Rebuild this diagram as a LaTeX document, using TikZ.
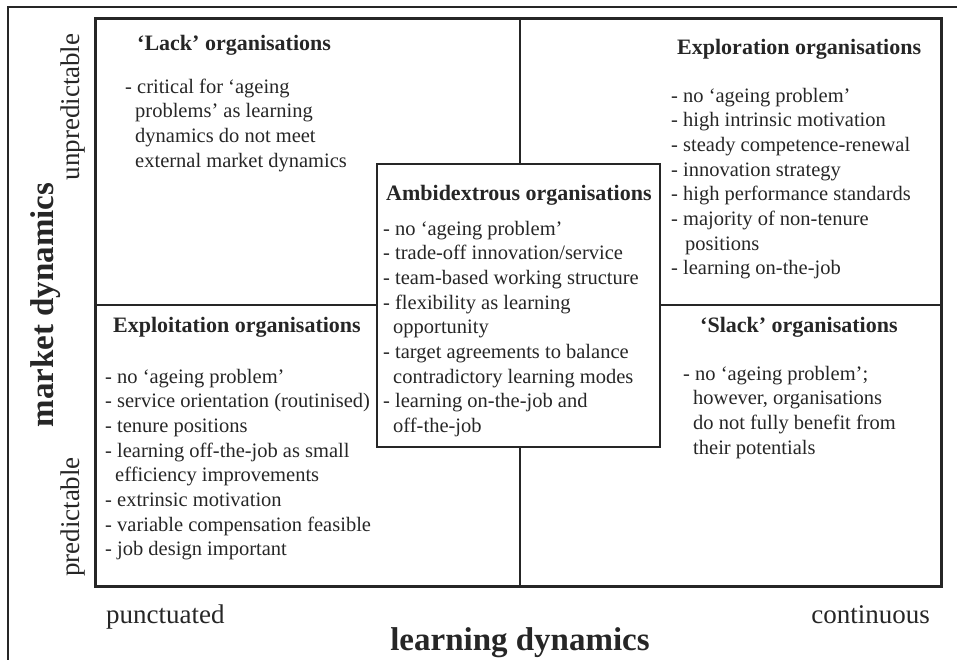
\documentclass[tikz,border=0pt]{standalone}
\usepackage{fontspec}
\setmainfont{Liberation Serif}
\definecolor{ink}{HTML}{262626}

\tikzstyle{heading}=[font=\fontsize{22}{26}\selectfont\bfseries,anchor=base west,inner sep=0pt,text=ink]
\tikzstyle{items}=[font=\fontsize{20.5}{24.7}\selectfont,anchor=base west,inner sep=0pt,text=ink]
\tikzstyle{axis label}=[font=\fontsize{33}{38}\selectfont\bfseries,inner sep=0pt,text=ink]
\tikzstyle{pole}=[font=\fontsize{27}{32}\selectfont,inner sep=0pt,text=ink]
\tikzstyle{divider}=[draw=ink,line width=1.3pt]
\tikzstyle{middle box}=[draw=ink,line width=1.3pt,fill=white,minimum width=283pt,minimum height=283pt]

% list of points, hanging from the baseline of its first line
\newcommand{\pointlist}[1]{\begin{tabular}[t]{@{}l@{}}#1\end{tabular}}
\newcommand{\cont}{\hspace*{10pt}}

\begin{document}
\begin{tikzpicture}[x=1pt,y=-1pt]
\useasboundingbox (0,0) rectangle (957,659);
% page frame and the matrix
\draw[divider] (8,7) rectangle (1000,700);
\draw[draw=ink,line width=3pt] (95,18) rectangle (941,586);
\draw[divider] (95,305) -- (941,305);
\draw[divider] (520,18) -- (520,586);
\node[middle box] (amb) at (518.5,305.5) {};

% quadrants
\node[heading] (lack) at (137,50) {`Lack' organisations};
\node[items] (lacklist) at (125,93) {\pointlist{- critical for `ageing\\
  \cont problems' as learning\\
  \cont dynamics do not meet\\
  \cont external market dynamics}};

\node[heading] (explor) at (677,54) {Exploration organisations};
\node[items] (explorlist) at (671,102) {\pointlist{- no `ageing problem'\\
  - high intrinsic motivation\\
  - steady competence-renewal\\
  - innovation strategy\\
  - high performance standards\\
  - majority of non-tenure\\
  \hspace*{14pt}positions\\
  - learning on-the-job}};

\node[heading] (exploit) at (113,332) {Exploitation organisations};
\node[items] (exploitlist) at (105,383) {\pointlist{- no `ageing problem'\\
  - service orientation (routinised)\\
  - tenure positions\\
  - learning off-the-job as small\\
  \cont efficiency improvements\\
  - extrinsic motivation\\
  - variable compensation feasible\\
  - job design important}};

\node[heading] (slack) at (700,332) {`Slack' organisations};
\node[items] (slacklist) at (683,380) {\pointlist{- no `ageing problem';\\
  \cont however, organisations\\
  \cont do not fully benefit from\\
  \cont their potentials}};

\node[heading] (ambtitle) at (386,200) {Ambidextrous organisations};
\node[items] (amblist) at (383,235) {\pointlist{- no `ageing problem'\\
  - trade-off innovation/service\\
  - team-based working structure\\
  - flexibility as learning\\
  \cont opportunity\\
  - target agreements to balance\\
  \cont contradictory learning modes\\
  - learning on-the-job and\\
  \cont off-the-job}};

% axes
\node[axis label,rotate=90,anchor=base] (market) at (53,305) {market dynamics};
\node[pole,rotate=90,anchor=base] (unpred) at (79,107) {unpredictable};
\node[pole,rotate=90,anchor=base] (pred) at (79,517) {predictable};
\node[axis label,anchor=base] (learning) at (520,650) {learning dynamics};
\node[pole,anchor=base west] (punct) at (106,623) {punctuated};
\node[pole,anchor=base east] (contin) at (930,623) {continuous};
\end{tikzpicture}
\end{document}
